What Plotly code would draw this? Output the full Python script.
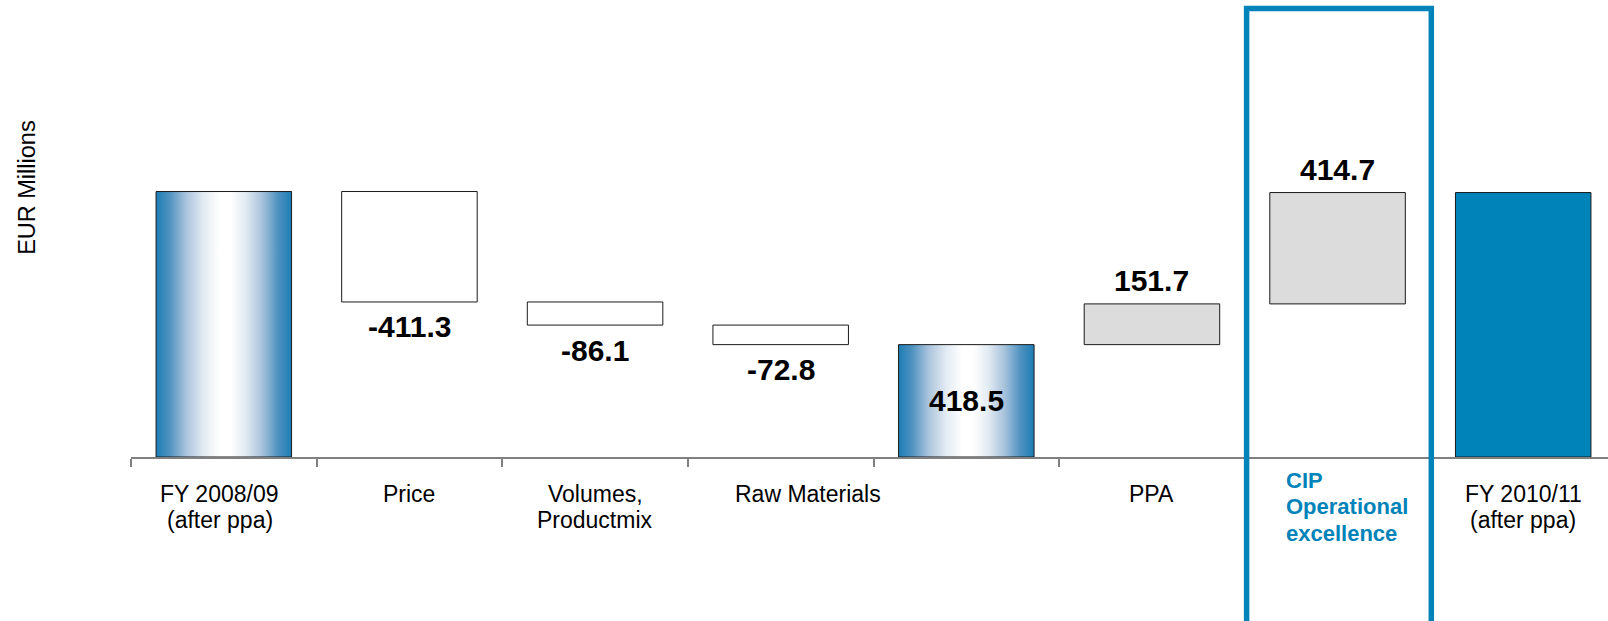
import plotly.graph_objects as go

# Waterfall: operating result bridge FY 2008/09 -> FY 2010/11 (EUR millions)
categories = [
    "FY 2008/09<br>(after ppa)",
    "Price",
    "Volumes,<br>Productmix",
    "Raw Materials",
    "",
    "PPA",
    "CIP<br>Operational<br>excellence",
    "FY 2010/11<br>(after ppa)",
]
kinds = ["total", "delta", "delta", "delta", "subtotal", "delta", "delta", "total"]
values = [988.7, -411.3, -86.1, -72.8, 418.5, 151.7, 414.7, 984.9]
show_value = [False, True, True, True, True, True, True, False]

FONT = "Liberation Sans, Arial, sans-serif"
BLUE = "#0083b8"
OUTLINE = "#1a1a1a"
BAR_W = 0.73
PLOT_H = 457
PX_PER_UNIT = 0.2685

# bottom / top of every floating bar
lows, highs = [], []
level = 0.0
for kind, v in zip(kinds, values):
    if kind in ("total", "subtotal"):
        lo, hi = 0.0, v
        level = v
    else:
        lo, hi = min(level, level + v), max(level, level + v)
        level = level + v
    lows.append(lo)
    highs.append(hi)

fig = go.Figure()

gradient = [
    [0.0, "#1c7db5"], [0.1, "#4f92c0"], [0.22, "#a9c3dc"], [0.35, "#e3ebf3"],
    [0.47, "#ffffff"], [0.55, "#ffffff"], [0.66, "#e3ebf3"], [0.78, "#a9c3dc"],
    [0.9, "#4f92c0"], [1.0, "#1c7db5"],
]

plain_x, plain_base, plain_h, plain_col = [], [], [], []
for i, (kind, v, lo, hi) in enumerate(zip(kinds, values, lows, highs)):
    if (kind == "total" and i == 0) or kind == "subtotal":
        # shaded column drawn as a filled outline with a horizontal gradient
        xl, xr = i - BAR_W / 2, i + BAR_W / 2
        fig.add_trace(go.Scatter(
            x=[xl, xr, xr, xl, xl], y=[lo, lo, hi, hi, lo],
            mode="lines", fill="toself",
            fillgradient=dict(type="horizontal", colorscale=gradient),
            line=dict(color=OUTLINE, width=1), hoverinfo="skip", showlegend=False,
        ))
    else:
        plain_x.append(i)
        plain_base.append(lo)
        plain_h.append(hi - lo)
        if kind == "total":
            plain_col.append(BLUE)
        elif v < 0:
            plain_col.append("#ffffff")
        else:
            plain_col.append("#dcdcdc")

fig.add_trace(go.Bar(
    x=plain_x, y=plain_h, base=plain_base, width=BAR_W,
    marker=dict(color=plain_col, line=dict(color=OUTLINE, width=1)),
    showlegend=False, hoverinfo="skip",
))

annotations = []
# value labels
for i, (kind, v, lo, hi, show) in enumerate(zip(kinds, values, lows, highs, show_value)):
    if not show:
        continue
    if kind == "subtotal":
        y, shift = (lo + hi) / 2, 0
    elif v < 0:
        y, shift = lo, -25
    else:
        y, shift = hi, 23
    annotations.append(dict(
        x=i, y=y, xref="x", yref="y", yshift=shift, text=f"<b>{v:.1f}</b>",
        showarrow=False, xanchor="center", yanchor="middle",
        font=dict(family=FONT, size=30, color="#000000"),
    ))

# category labels under the axis, one annotation per text line
label_xshift = [-4, 0, 0, 27, 0, 0, -54, 0]
for i, cat in enumerate(categories):
    if not cat:
        continue
    lines = cat.split("<br>")
    highlight = i == 6
    for k, line in enumerate(lines):
        if highlight:
            annotations.append(dict(
                x=i, y=0, xref="x", yref="paper", xshift=label_xshift[i],
                yshift=-23 - 26.5 * k, text=f"<b>{line}</b>", showarrow=False,
                xanchor="left", yanchor="middle",
                font=dict(family=FONT, size=22, color=BLUE),
            ))
        else:
            annotations.append(dict(
                x=i, y=0, xref="x", yref="paper", xshift=label_xshift[i],
                yshift=-37 - 26 * k, text=line, showarrow=False,
                xanchor="center", yanchor="middle",
                font=dict(family=FONT, size=23, color="#000000"),
            ))

# axis title
annotations.append(dict(
    x=-0.0704, y=0.589, xref="paper", yref="paper", text="EUR Millions",
    textangle=-90, showarrow=False, xanchor="center", yanchor="middle",
    font=dict(family=FONT, size=23.5, color="#000000"),
))

fig.update_layout(
    width=1608, height=621,
    margin=dict(l=131, r=0, t=0, b=621 - PLOT_H),
    paper_bgcolor="#ffffff", plot_bgcolor="#ffffff",
    annotations=annotations,
    shapes=[dict(
        type="rect", xref="x", yref="paper", x0=5.51, x1=6.505,
        y0=-0.5, y1=1 - 8.5 / PLOT_H, line=dict(color=BLUE, width=5.5),
        fillcolor="rgba(0,0,0,0)", layer="above",
    )],
    xaxis=dict(
        range=[-0.5, 7.5 - 8 / 185.6], showgrid=False, zeroline=False,
        showline=True, linecolor="#808080", linewidth=1.5,
        tickvals=list(range(len(categories))), showticklabels=False, ticks="",
        minor=dict(tickvals=[k - 0.5 for k in range(len(categories) + 1)],
                   ticks="outside", ticklen=8, tickcolor="#808080", tickwidth=1.5,
                   showgrid=False),
        fixedrange=True,
    ),
    yaxis=dict(
        range=[0, PLOT_H / PX_PER_UNIT], showgrid=False, zeroline=False,
        showline=False, showticklabels=False, ticks="", fixedrange=True,
    ),
)

fig.write_html("out.html")
